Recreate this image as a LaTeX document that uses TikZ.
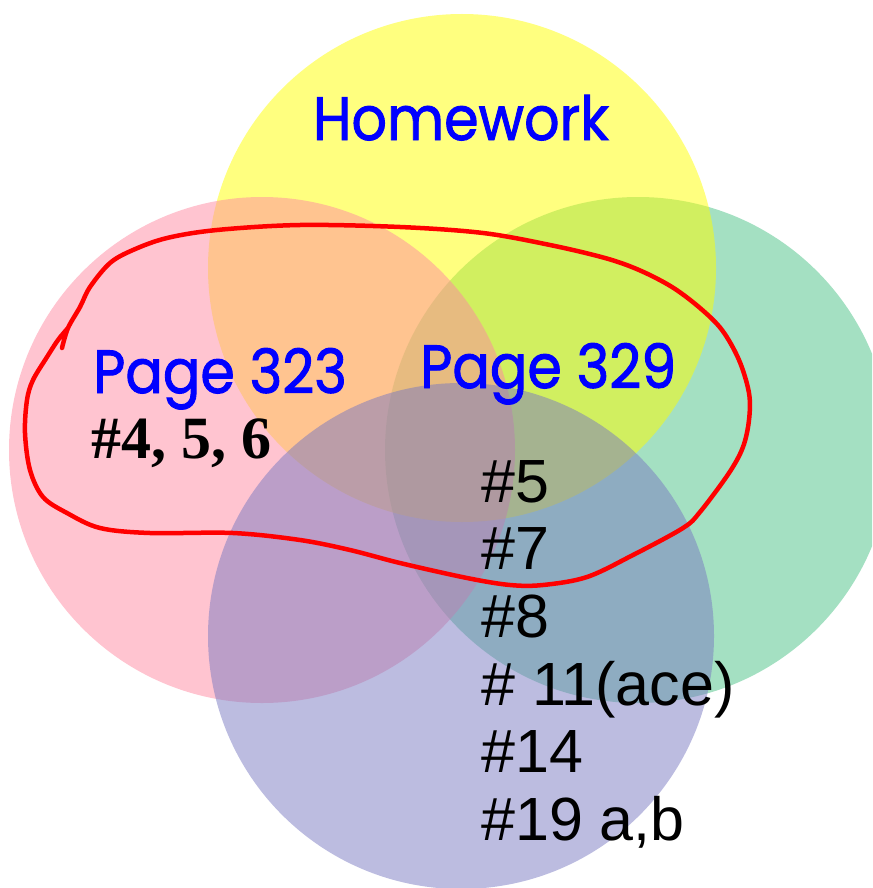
\documentclass[tikz,border=0pt]{standalone}
\usepackage{fontspec}
\setmainfont{Liberation Sans}
\newfontfamily\handfont[FakeBold=1.6]{Poppins}
\newfontfamily\timesfont{Liberation Serif}
\definecolor{setgreen}{RGB}{73,193,133}
\definecolor{setyellow}{RGB}{255,255,0}
\definecolor{setpink}{RGB}{255,137,161}
\definecolor{setpurple}{RGB}{121,121,193}
\definecolor{labelblue}{RGB}{0,0,255}
\tikzset{
  setdisc/.style={fill opacity=0.5, draw=none},
  handlabel/.style={inner sep=0pt, anchor=base west, text=labelblue, font=\handfont\fontsize{61}{61}\selectfont},
  itemline/.style={inner sep=0pt, anchor=base west, font=\fontsize{61}{61}\selectfont},
  loopstroke/.style={draw=red, line width=4.5pt, line cap=round, line join=round}
}
\begin{document}
\begin{tikzpicture}[x=1pt,y=-1pt]
\useasboundingbox (0,0) rectangle (872,888);
\clip (0,0) rectangle (872,888);
% the four overlapping sets
\fill[setdisc, setgreen]  (638,450) circle[radius=253pt];
\fill[setdisc, setyellow] (462,268) circle[radius=254pt];
\fill[setdisc, setpink]   (262,450) circle[radius=253pt];
\fill[setdisc, setpurple] (461,636) circle[radius=253pt];
% labels
\node[handlabel, anchor=base] (hw) at (461,140) {\scalebox{0.91}[1]{Homework}};
\node[handlabel] (p323) at (93,393) {\scalebox{0.91}[1]{Page 323}};
\node[handlabel] (p329) at (420,388) {\scalebox{0.91}[1]{Page 329}};
\node[inner sep=0pt, anchor=base west, font=\timesfont\bfseries\fontsize{60}{60}\selectfont] (p323items) at (91,458) {\#4, 5, 6};
\node[itemline] (q5)  at (481,502) {\#5};
\node[itemline] (q7)  at (481,569) {\#7};
\node[itemline] (q8)  at (481,637) {\#8};
\node[itemline] (q11) at (481,705) {\# 11(ace)};
\node[itemline] (q14) at (481,772) {\#14};
\node[itemline] (q19) at (481,840) {\#19 a,b};
% hand-drawn loop around both pages
\draw[loopstroke] plot[smooth, tension=0.55] coordinates {
  (62,348) (68,328) (80,307) (90,287) (110,263) (133,250) (167,238) (217,230)
  (300,225) (400,227) (483,233) (550,245) (605,258) (639,270) (672,287)
  (700,308) (722,330) (739,360) (749,393) (749,420) (743,447) (729,473)
  (700,512) (683,528) (633,555) (587,577) (543,585) (510,585) (467,578)
  (400,563) (350,550) (300,540) (233,533) (150,533) (100,528) (67,513)
  (43,497) (30,470) (25,433) (27,400) (33,380) (47,357) (58,340) (68,328)};
\end{tikzpicture}
\end{document}
